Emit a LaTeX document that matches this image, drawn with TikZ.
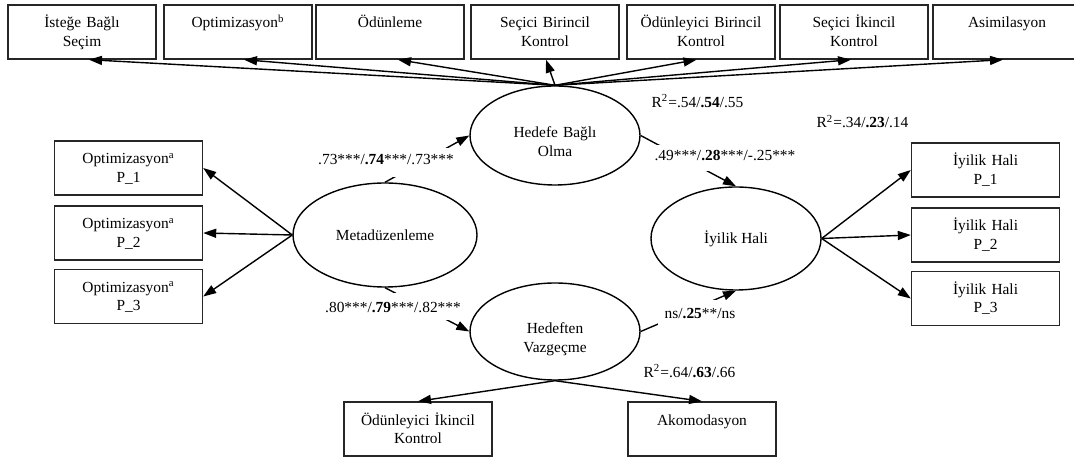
\documentclass[tikz,border=0pt]{standalone}
\usepackage{fontspec}
\setmainfont{Liberation Serif}
\usetikzlibrary{shapes.geometric,arrows.meta}
\begin{document}
\begin{tikzpicture}[x=0.5pt,y=-0.5pt,font=\fontsize{7.7}{9.2}\selectfont,
kutu/.style={draw=black!85,line width=0.7pt,minimum width=74pt,minimum height=27pt,text width=72pt,align=center,inner sep=0pt,text height=7pt,text depth=11pt},
gizil/.style={draw,ellipse,line width=0.7pt,inner sep=0pt,align=center},
ikisatir/.style={text width=56pt,text height=13.5pt,text depth=11pt},
ok/.style={line width=0.7pt,-{Triangle[length=6.5pt,width=4.5pt]}},
yol/.style={fill=white,anchor=base,inner xsep=0.5pt,inner ysep=0pt}]
\useasboundingbox (0,0) rectangle (1074,458);
\clip (0,0) rectangle (1074,458);
\node[kutu] (isb) at (82,32) {İsteğe Bağlı\\Seçim};
\node[kutu] (opb) at (238,32) {Optimizasyon\textsuperscript{b}};
\node[kutu] (odn) at (390,32) {Ödünleme};
\node[kutu] (sbk) at (545,32) {Seçici Birincil\\Kontrol};
\node[kutu] (obk) at (701,32) {Ödünleyici Birincil\\Kontrol};
\node[kutu] (sik) at (854,32) {Seçici İkincil\\Kontrol};
\node[kutu] (asm) at (1007,32) {Asimilasyon};
\node[kutu] (op1) at (128.5,168) {Optimizasyon\textsuperscript{a}\\P\_1};
\node[kutu] (op2) at (128.5,233) {Optimizasyon\textsuperscript{a}\\P\_2};
\node[kutu] (op3) at (128.5,296.5) {Optimizasyon\textsuperscript{a}\\P\_3};
\node[kutu] (iy1) at (985.5,170) {İyilik Hali\\P\_1};
\node[kutu] (iy2) at (985.5,235) {İyilik Hali\\P\_2};
\node[kutu] (iy3) at (985.5,298.5) {İyilik Hali\\P\_3};
\node[kutu] (oik) at (418,429) {Ödünleyici İkincil\\Kontrol};
\node[kutu] (akm) at (702,429) {Akomodasyon};
\node[gizil,ikisatir,minimum width=85pt,minimum height=49.5pt] (hbo) at (555,135.5) {Hedefe Bağlı\\Olma};
\node[gizil,minimum width=92pt,minimum height=52pt] (mdz) at (385,235) {Metadüzenleme};
\node[gizil,minimum width=85pt,minimum height=51.5pt] (iyi) at (736,238.5) {İyilik Hali};
\node[gizil,ikisatir,minimum width=85pt,minimum height=48.5pt] (hvz) at (555,331.5) {Hedeften\\Vazgeçme};
\draw[ok] (hbo.north) -- ([xshift=3.5pt]isb.south);
\draw[ok] (hbo.north) -- ([xshift=3pt]opb.south);
\draw[ok] (hbo.north) -- ([xshift=4pt]odn.south);
\draw[ok] (hbo.north) -- ([xshift=0.5pt]sbk.south);
\draw[ok] (hbo.north) -- ([xshift=-2.25pt]obk.south);
\draw[ok] (hbo.north) -- ([xshift=-1.5pt]sik.south);
\draw[ok] (hbo.north) -- ([xshift=-2pt]asm.south);
\draw[ok] (mdz.west) -- (op1.east);
\draw[ok] (mdz.west) -- (op2.east);
\draw[ok] (mdz.west) -- (op3.east);
\draw[ok] (iyi.east) -- (iy1.west);
\draw[ok] (iyi.east) -- (iy2.west);
\draw[ok] (iyi.east) -- (iy3.west);
\draw[ok] (hvz.south) -- (oik.north);
\draw[ok] (hvz.south) -- (akm.north);
\draw[ok] (mdz.north) -- (hbo.west);
\draw[ok] (mdz.south) -- (hvz.west);
\draw[ok] (hbo.east) -- (iyi.north);
\draw[ok] (hvz.east) -- (iyi.south);
\node[yol,text height=8.2pt,text depth=6.3pt] (k1) at (386,164.4) {.73***/\textbf{.74}***/.73***};
\node[yol,text height=9.85pt,text depth=3.9pt] (k2) at (393,312.5) {.80***/\textbf{.79}***/.82***};
\node[yol,text height=7.95pt,text depth=5.45pt] (k3) at (725,160.5) {.49***/\textbf{.28}***/-.25***};
\node[yol,text height=9.25pt,text depth=2.8pt,inner xsep=3.5pt] (k4) at (700,319) {ns/\textbf{.25}**/ns};
\node[anchor=base] (r1) at (697.5,107.5) {R\textsuperscript{2}=.54/\textbf{.54}/.55};
\node[anchor=base] (r2) at (862.5,128) {R\textsuperscript{2}=.34/\textbf{.23}/.14};
\node[anchor=base] (r3) at (689.5,377.5) {R\textsuperscript{2}=.64/\textbf{.63}/.66};
\end{tikzpicture}
\end{document}
